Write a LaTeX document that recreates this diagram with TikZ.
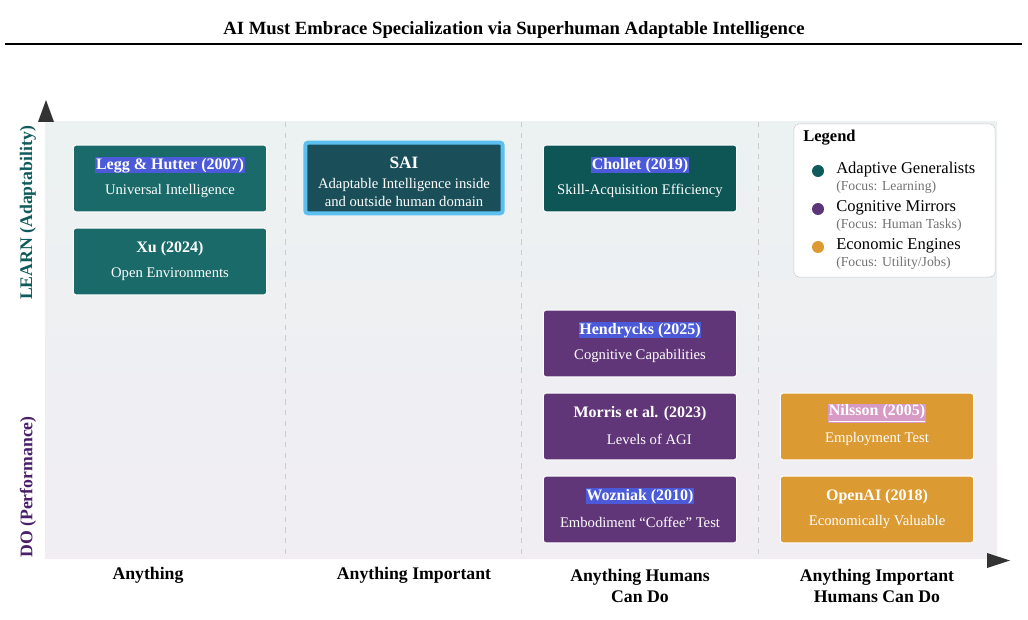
\documentclass[tikz,border=0pt]{standalone}
\usepackage{fontspec}
\setmainfont{Liberation Serif}
\usetikzlibrary{positioning}
\definecolor{tealbox}{HTML}{1B6A6A}
\definecolor{saibox}{HTML}{1A4F5A}
\definecolor{saiedge}{HTML}{5BC0F0}
\definecolor{purplebox}{HTML}{613679}
\definecolor{orangebox}{HTML}{DC9A33}
\definecolor{hlblue}{HTML}{4B5AD8}
\definecolor{hlpink}{HTML}{D69AC4}
\definecolor{learncol}{HTML}{0F5A5A}
\definecolor{docol}{HTML}{4A1F6A}

% one card: name, colour, centre, title style, title, subtitle
\newcommand{\paper}[6]{%
  \node[card, fill=#2] (#1) at (#3) {};
  \node[#4] (#1-t) at ([yshift=-15.5pt]#1.north) {#5};
  \node[sub] (#1-s) at ([yshift=-35pt]#1.north) {#6};
}

\begin{document}
\begin{tikzpicture}[x=0.75pt, y=-0.75pt,
    card/.style={rectangle, rounded corners=2pt, minimum width=145pt, minimum height=50pt, draw=white, line width=0.8pt},
    ttl/.style={text=white, font=\bfseries\fontsize{12}{14}\selectfont, inner sep=0.5pt},
    hl/.style={ttl, fill=hlblue},
    hlp/.style={ttl, fill=hlpink},
    sub/.style={text=white, font=\fontsize{11}{13}\selectfont, align=center, inner sep=0pt},
    axlab/.style={font=\bfseries\fontsize{13.3}{15.5}\selectfont, align=center},
    dot/.style={circle, inner sep=0pt, minimum size=9pt},
    leg/.style={anchor=west, font=\fontsize{12.4}{14}\selectfont, inner sep=0pt},
    legsub/.style={anchor=west, font=\fontsize{10.3}{12}\selectfont, text=black!55, inner sep=0pt}]
  \useasboundingbox (0,0) rectangle (1028,620);

  % Title
  \node[font=\bfseries\fontsize{14}{16}\selectfont] (title) at (514,30) {AI Must Embrace Specialization via Superhuman Adaptable Intelligence};
  \draw[line width=1pt] (5,44) -- (1022,44);

  % Background and axes
  \shade[top color=learncol!8, middle color=white, bottom color=docol!8] (45,122) rectangle (997,558);
  \fill[black!80] (38,122) -- (54,122) -- (46,100) -- cycle;
  \fill[black!80] (987,553) -- (987,568) -- (1010,560.5) -- cycle;
  \foreach \xx in {285,521,758}
    \draw[black!20, dashed, dash pattern=on 4pt off 4pt] (\xx,122) -- (\xx,558);

  \node[axlab, rotate=90, text=learncol] (learn) at (28,213) {LEARN (Adaptability)};
  \node[axlab, rotate=90, text=docol] (do) at (28,487) {DO (Performance)};

  \node[axlab] (c1) at (148,575) {Anything};
  \node[axlab] (c2) at (414,575) {Anything Important};
  \node[axlab] (c3) at (640,586) {Anything Humans\\Can Do};
  \node[axlab] (c4) at (877,586) {Anything Important\\Humans Can Do};

  % Cards
  \paper{legg}{tealbox}{170,178.5}{hl}{Legg \& Hutter (2007)}{Universal Intelligence}
  \paper{xu}{tealbox}{170,261.5}{ttl}{Xu (2024)}{Open Environments}
  \node[card, fill=saibox, draw=saiedge, line width=3pt, minimum width=148pt, minimum height=53pt] (sai) at (404,178) {};
  \node[ttl, font=\bfseries\fontsize{13}{15}\selectfont] (sai-t) at (404,163) {SAI};
  \node[sub, font=\fontsize{11}{13.5}\selectfont] (sai-s) at (404,192) {Adaptable Intelligence inside\\and outside human domain};
  \paper{chollet}{learncol!95!black}{640,178.5}{hl}{Chollet (2019)}{Skill-Acquisition Efficiency}
  \paper{hend}{purplebox}{640,343.5}{hl}{Hendrycks (2025)}{Cognitive Capabilities}
  \paper{morris}{purplebox}{640,426.5}{ttl}{Morris et al. (2023)}{\hspace*{14pt}Levels of AGI}
  \paper{woz}{purplebox}{640,509.5}{hl}{Wozniak (2010)}{Embodiment ``Coffee'' Test}
  \paper{nils}{orangebox}{877,426.5}{hlp}{\underline{Nilsson (2005)}}{Employment Test}
  \paper{openai}{orangebox}{877,509.5}{ttl}{OpenAI (2018)}{Economically Valuable}

  % Legend
  \node[rectangle, rounded corners=4pt, draw=black!20, fill=white, minimum width=151pt, minimum height=115pt] (legend) at (894.5,200.5) {};
  \node[anchor=west, font=\bfseries\fontsize{12.4}{14}\selectfont, inner sep=0pt] (leg-t) at (803,138) {Legend};
  \node[dot, fill=learncol] (d1) at (818,171) {};
  \node[leg] (l1) at (836,170) {Adaptive Generalists};
  \node[legsub] (s1) at (836,187) {(Focus: Learning)};
  \node[dot, fill=docol!90] (d2) at (818,209) {};
  \node[leg] (l2) at (836,208) {Cognitive Mirrors};
  \node[legsub] (s2) at (836,225) {(Focus: Human Tasks)};
  \node[dot, fill=orangebox] (d3) at (818,247) {};
  \node[leg] (l3) at (836,246) {Economic Engines};
  \node[legsub] (s3) at (836,263) {(Focus: Utility/Jobs)};
\end{tikzpicture}
\end{document}
